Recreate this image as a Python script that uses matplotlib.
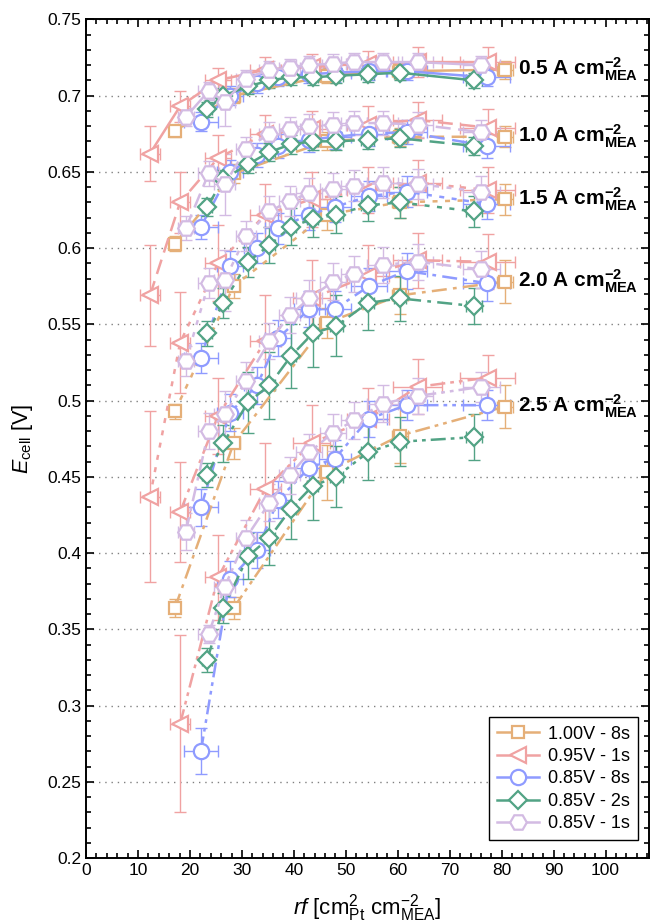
import numpy as np
import matplotlib
matplotlib.use('Agg')
import matplotlib.pyplot as plt
from matplotlib.lines import Line2D
from matplotlib.ticker import MultipleLocator, FuncFormatter

plt.rcParams['font.family'] = ['Liberation Sans', 'DejaVu Sans']
plt.rcParams['mathtext.fontset'] = 'custom'
plt.rcParams['mathtext.rm'] = 'Liberation Sans'
plt.rcParams['mathtext.it'] = 'Liberation Sans:italic'
plt.rcParams['mathtext.bf'] = 'Liberation Sans:bold'

nan = np.nan
currents = [0.5, 1.0, 1.5, 2.0, 2.5]

# 1.00V - 8s
rf_100_8 = [17.1, 28.4, 46.3, 60.4, 80.6]
xerr_100_8 = [1.0, 1.2, 1.5, 1.5, 1.5]
E_100_8 = {
    0.5: [0.677, 0.700, 0.713, 0.716, 0.717],
    1.0: [0.603, 0.649, 0.670, 0.673, 0.673],
    1.5: [0.493, 0.575, 0.622, 0.630, 0.632],
    2.0: [0.364, 0.472, 0.551, 0.569, 0.578],
    2.5: [nan, 0.364, 0.453, 0.477, 0.496],
}
yerr_100_8 = {
    0.5: [0.004, 0.005, 0.005, 0.005, 0.006],
    1.0: [0.005, 0.006, 0.006, 0.006, 0.007],
    1.5: [0.005, 0.008, 0.010, 0.010, 0.010],
    2.0: [0.006, 0.010, 0.010, 0.012, 0.014],
    2.5: [nan, 0.007, 0.018, 0.018, 0.014],
}

# 0.95V - 1s
rf_095_1 = [12.3, 18.1, 25.4, 34.5, 43.4, 54.3, 63.8, 77.3]
xerr_095_1 = [2.0, 2.0, 2.5, 3.0, 3.5, 4.0, 4.8, 5.3]
E_095_1 = {
    0.5: [0.662, 0.693, 0.710, 0.717, 0.719, 0.721, 0.722, 0.722],
    1.0: [0.569, 0.630, 0.659, 0.675, 0.678, 0.681, 0.684, 0.679],
    1.5: [0.437, 0.538, 0.590, 0.622, 0.632, 0.638, 0.643, 0.638],
    2.0: [nan, 0.427, 0.490, 0.539, 0.567, 0.582, 0.592, 0.591],
    2.5: [nan, 0.288, 0.384, 0.442, 0.472, 0.488, 0.509, 0.515],
}
yerr_095_1 = {
    0.5: [0.018, 0.010, 0.008, 0.008, 0.008, 0.008, 0.010, 0.010],
    1.0: [0.033, 0.020, 0.015, 0.012, 0.012, 0.012, 0.012, 0.012],
    1.5: [0.056, 0.033, 0.025, 0.020, 0.018, 0.015, 0.015, 0.015],
    2.0: [nan, 0.033, 0.025, 0.030, 0.025, 0.020, 0.018, 0.018],
    2.5: [nan, 0.058, 0.028, 0.030, 0.025, 0.020, 0.018, 0.015],
}

# 0.85V - 8s
rf_085_8 = [22.1, 27.7, 32.9, 37.0, 43.0, 47.9, 54.4, 61.7, 77.1]
xerr_085_8 = [3.3, 2.5, 2.5, 2.5, 3.0, 3.0, 3.5, 4.0, 4.5]
E_085_8 = {
    0.5: [0.683, 0.700, 0.708, 0.712, 0.714, 0.715, 0.716, 0.716, 0.712],
    1.0: [0.614, 0.650, 0.661, 0.667, 0.671, 0.673, 0.675, 0.676, 0.667],
    1.5: [0.528, 0.588, 0.600, 0.613, 0.622, 0.627, 0.634, 0.637, 0.629],
    2.0: [0.430, 0.492, 0.510, 0.541, 0.560, 0.560, 0.575, 0.585, 0.577],
    2.5: [0.270, 0.383, 0.402, 0.435, 0.456, 0.462, 0.488, 0.497, 0.497],
}
yerr_085_8 = {
    0.5: [0.006, 0.006, 0.006, 0.006, 0.006, 0.006, 0.006, 0.006, 0.006],
    1.0: [0.008, 0.008, 0.008, 0.008, 0.008, 0.008, 0.008, 0.008, 0.008],
    1.5: [0.010, 0.010, 0.010, 0.010, 0.010, 0.010, 0.010, 0.010, 0.010],
    2.0: [0.012, 0.012, 0.012, 0.012, 0.012, 0.012, 0.012, 0.012, 0.012],
    2.5: [0.015, 0.012, 0.012, 0.012, 0.012, 0.012, 0.012, 0.010, 0.010],
}

# 0.85V - 2s
rf_085_2 = [23.3, 26.4, 31.2, 35.3, 39.4, 43.6, 48.2, 54.2, 60.4, 74.7]
xerr_085_2 = [1.0, 1.0, 1.0, 1.0, 1.0, 1.0, 1.2, 1.2, 1.2, 1.5]
E_085_2 = {
    0.5: [0.691, 0.700, 0.706, 0.710, 0.712, 0.712, 0.713, 0.714, 0.715, 0.710],
    1.0: [0.627, 0.645, 0.655, 0.663, 0.668, 0.670, 0.670, 0.671, 0.672, 0.667],
    1.5: [0.544, 0.564, 0.591, 0.602, 0.614, 0.619, 0.622, 0.628, 0.630, 0.624],
    2.0: [0.451, 0.472, 0.499, 0.510, 0.529, 0.544, 0.549, 0.564, 0.567, 0.562],
    2.5: [0.330, 0.364, 0.398, 0.410, 0.429, 0.444, 0.450, 0.466, 0.473, 0.476],
}
yerr_085_2 = {
    0.5: [0.005, 0.005, 0.005, 0.005, 0.005, 0.005, 0.005, 0.005, 0.005, 0.005],
    1.0: [0.006, 0.006, 0.006, 0.006, 0.006, 0.006, 0.006, 0.006, 0.006, 0.006],
    1.5: [0.008, 0.010, 0.010, 0.012, 0.012, 0.012, 0.012, 0.010, 0.010, 0.010],
    2.0: [0.008, 0.012, 0.020, 0.022, 0.021, 0.022, 0.020, 0.018, 0.015, 0.012],
    2.5: [0.008, 0.010, 0.015, 0.018, 0.020, 0.022, 0.020, 0.018, 0.016, 0.015],
}

# 0.85V - 1s
rf_085_1 = [19.2, 23.6, 26.7, 30.8, 35.3, 39.2, 43.0, 47.5, 51.6, 57.1, 63.8, 76.1]
xerr_085_1 = [1.5, 2.0, 2.0, 2.0, 2.0, 2.0, 2.5, 2.5, 2.5, 3.0, 3.0, 3.5]
E_085_1 = {
    0.5: [0.686, 0.703, 0.696, 0.711, 0.717, 0.718, 0.720, 0.721, 0.722, 0.722, 0.722, 0.720],
    1.0: [0.613, 0.649, 0.642, 0.665, 0.675, 0.678, 0.680, 0.681, 0.682, 0.682, 0.681, 0.676],
    1.5: [0.526, 0.577, 0.579, 0.608, 0.624, 0.631, 0.636, 0.639, 0.641, 0.643, 0.642, 0.637],
    2.0: [0.414, 0.480, 0.491, 0.513, 0.539, 0.556, 0.567, 0.578, 0.583, 0.589, 0.591, 0.586],
    2.5: [nan, 0.347, 0.378, 0.410, 0.433, 0.451, 0.466, 0.479, 0.487, 0.498, 0.503, 0.509],
}
yerr_085_1 = {
    0.5: [0.006, 0.006, 0.016, 0.006, 0.006, 0.006, 0.006, 0.006, 0.006, 0.006, 0.006, 0.006],
    1.0: [0.008, 0.008, 0.020, 0.008, 0.008, 0.008, 0.008, 0.008, 0.008, 0.008, 0.008, 0.008],
    1.5: [0.010, 0.010, 0.020, 0.010, 0.010, 0.010, 0.010, 0.010, 0.010, 0.010, 0.010, 0.010],
    2.0: [0.012, 0.012, 0.015, 0.012, 0.012, 0.012, 0.012, 0.012, 0.012, 0.012, 0.012, 0.012],
    2.5: [nan, 0.006, 0.010, 0.012, 0.012, 0.012, 0.012, 0.012, 0.012, 0.012, 0.012, 0.010],
}

series = [
    ('1.00V - 8s', '#E5AF78', 's', 9, rf_100_8, xerr_100_8, E_100_8, yerr_100_8),
    ('0.95V - 1s', '#F0A2A2', '<', 12, rf_095_1, xerr_095_1, E_095_1, yerr_095_1),
    ('0.85V - 8s', '#8F9BFF', 'o', 11, rf_085_8, xerr_085_8, E_085_8, yerr_085_8),
    ('0.85V - 2s', '#52A385', 'D', 9, rf_085_2, xerr_085_2, E_085_2, yerr_085_2),
    ('0.85V - 1s', '#D3BBE3', 'H', 12, rf_085_1, xerr_085_1, E_085_1, yerr_085_1),
]

linestyles = {
    0.5: '-',
    1.0: (0, (6, 3)),
    1.5: (0, (2, 3)),
    2.0: (0, (6, 2.5, 1.5, 2.5)),
    2.5: (0, (6, 2, 1.5, 2, 1.5, 2)),
}

fig = plt.figure(figsize=(6.52, 9.22), dpi=100)
ax = fig.add_axes([0.132, 0.0694, 0.863, 0.9096])

for name, color, marker, ms, rf, xerr, E, yerr in series:
    for j in currents:
        y = np.array(E[j], dtype=float)
        ok = ~np.isnan(y)
        x = np.array(rf)[ok]
        ax.errorbar(x, y[ok], xerr=np.array(xerr)[ok], yerr=np.array(yerr[j])[ok],
                    fmt='none', ecolor=color, elinewidth=1.0, capsize=4, capthick=1.0, zorder=2)
        ax.plot(x, y[ok], ls=linestyles[j], color=color, lw=1.8,
                marker=marker, ms=ms, mfc='white', mec=color, mew=1.6, zorder=3)

# current density labels next to the last 1.00V - 8s point
for j in currents:
    ax.text(rf_100_8[-1] + 2.6, E_100_8[j][-1],
            f'{j:.1f} A cm' + r'$^{\mathbf{-2}}_{\mathbf{MEA}}$',
            fontsize=15, fontweight='bold', va='center', ha='left', zorder=5)

ax.set_xlim(0, 108.3)
ax.set_ylim(0.2, 0.75)
ax.xaxis.set_major_locator(MultipleLocator(10))
ax.xaxis.set_minor_locator(MultipleLocator(2))
ax.yaxis.set_major_locator(MultipleLocator(0.05))
ax.yaxis.set_minor_locator(MultipleLocator(0.01))
ax.xaxis.set_major_formatter(FuncFormatter(lambda v, p: f'{v:g}' if v <= 100 else ''))
ax.yaxis.set_major_formatter(FuncFormatter(lambda v, p: f'{v:.2f}'.rstrip('0')))
ax.tick_params(which='both', direction='in', top=True, right=True, labelsize=12.5, width=1.2)
ax.tick_params(which='major', length=6)
ax.tick_params(which='minor', length=3.5)
for s in ax.spines.values():
    s.set_linewidth(1.4)
ax.yaxis.grid(True, which='major', ls=(0, (1, 3.5)), color='#808080', lw=1.0)
ax.set_axisbelow(True)

ax.set_xlabel(r'$\mathit{rf}$ [cm$^2_{\rm Pt}$ cm$^{-2}_{\rm MEA}$]', fontsize=16, labelpad=10)
ax.set_ylabel(r'$\mathit{E}_{\rm cell}$ [V]', fontsize=15.5, labelpad=9)

handles = [Line2D([], [], color=c, marker=m, ms=ms, mfc='white', mec=c, mew=1.6, lw=1.8)
           for _, c, m, ms, *_ in series]
leg = ax.legend(handles, [s[0] for s in series], loc='lower right', bbox_to_anchor=(0.981, 0.021),
                borderaxespad=0, fontsize=13, frameon=True, fancybox=False, edgecolor='black',
                framealpha=1, handlelength=2.3, labelspacing=0.3, borderpad=0.45, handletextpad=0.5)
leg.get_frame().set_linewidth(1.0)

fig.savefig('out.png', dpi=100)
